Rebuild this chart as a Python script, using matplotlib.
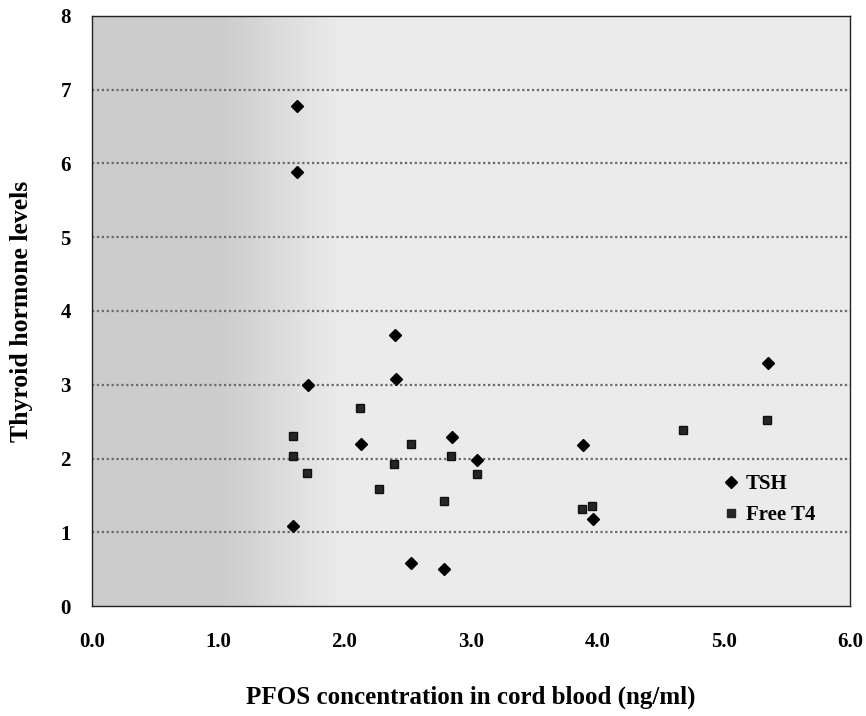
import numpy as np
import matplotlib
matplotlib.use("Agg")
import matplotlib.pyplot as plt
from matplotlib.lines import Line2D

# Data
tsh_x = [1.62, 1.62, 2.40, 2.41, 1.71, 2.13, 2.85, 3.05, 3.89, 5.35, 1.59, 2.53, 2.79, 3.97]
tsh_y = [6.78, 5.88, 3.67, 3.08, 3.00, 2.20, 2.29, 1.98, 2.18, 3.29, 1.09, 0.59, 0.50, 1.18]

t4_x = [2.12, 1.59, 1.59, 1.70, 2.53, 2.39, 2.27, 2.84, 3.05, 2.79, 4.68, 5.34, 3.88, 3.96]
t4_y = [2.69, 2.31, 2.04, 1.81, 2.20, 1.93, 1.59, 2.03, 1.79, 1.42, 2.39, 2.52, 1.31, 1.35]

x_ticks = [0, 1, 2, 3, 4, 5, 6]
x_tick_labels = ["0.0", "1.0", "2.0", "3.0", "4.0", "5.0", "6.0"]
y_ticks = [0, 1, 2, 3, 4, 5, 6, 7, 8]
series_names = ["TSH", "Free T4"]

plt.rcParams['font.family'] = ['Liberation Serif', 'DejaVu Serif']
plt.rcParams['font.weight'] = 'bold'

fig = plt.figure(figsize=(8.66, 7.16), dpi=100)
ax = fig.add_axes([0.106, 0.1536, 0.8755, 0.8241])

# background shading: darker band on the left, lighter elsewhere
grad = np.concatenate([np.full(20, 0.80), np.linspace(0.80, 0.92, 20), np.full(80, 0.92)])
ax.imshow(grad[np.newaxis, :], extent=[0, 6, 0, 8], aspect='auto', cmap='gray',
          vmin=0, vmax=1, zorder=0, interpolation='bilinear')

ax.set_xlim(0, 6)
ax.set_ylim(0, 8)

for yv in y_ticks[1:-1]:
    ax.axhline(yv, color='#6a6a6a', linestyle=(0, (1, 1.2)), linewidth=1.6, zorder=1)

ax.plot(tsh_x, tsh_y, linestyle='none', marker='D', markersize=6.5,
        color='black', zorder=3)
ax.plot(t4_x, t4_y, linestyle='none', marker='s', markersize=5.5,
        color='#262626', markeredgecolor='#111111', zorder=3)

ax.set_xticks(x_ticks)
ax.set_xticklabels(x_tick_labels)
ax.set_yticks(y_ticks)
ax.tick_params(axis='both', length=0, labelsize=15)
ax.tick_params(axis='x', pad=19)
ax.tick_params(axis='y', pad=15)

for s in ax.spines.values():
    s.set_color('#222222')
    s.set_linewidth(1.0)

ax.set_xlabel("PFOS concentration in cord blood (ng/ml)", fontsize=18,
              fontweight='bold', labelpad=24)
ax.set_ylabel("Thyroid hormone levels", fontsize=18.5, fontweight='bold', labelpad=20)

handles = [Line2D([], [], linestyle='none', marker='D', markersize=6.5, color='black'),
           Line2D([], [], linestyle='none', marker='s', markersize=5.5, color='#262626')]
leg = ax.legend(handles, series_names, loc='upper left', bbox_to_anchor=(0.824, 0.238),
                frameon=False, fontsize=15, handlelength=0.6, handletextpad=0.4,
                labelspacing=0.55, borderaxespad=0)

fig.savefig("out.png", dpi=100)
